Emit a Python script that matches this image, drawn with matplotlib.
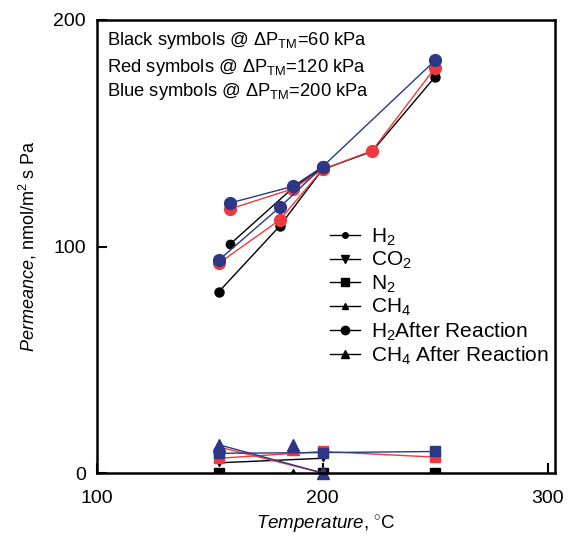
import matplotlib
matplotlib.use("Agg")
import matplotlib.pyplot as plt
from matplotlib.lines import Line2D
import numpy as np

plt.rcParams['font.family'] = ['Liberation Sans', 'DejaVu Sans']
plt.rcParams['mathtext.fontset'] = 'custom'
plt.rcParams['mathtext.rm'] = 'Liberation Sans'
plt.rcParams['mathtext.it'] = 'Liberation Sans:italic'
plt.rcParams['mathtext.bf'] = 'Liberation Sans:bold'

# ---- data ----
# H2 series: "a" runs (lower start) and "b" runs (upper start)
black_h2a_T = [154, 181, 200, 222, 250]
black_h2a_P = [80, 109, 134, 142, 175]
black_h2b_T = [159, 187, 200]
black_h2b_P = [101, 126, 135]

red_h2a_T = [154, 181, 200, 222, 250]
red_h2a_P = [92.6, 111.7, 134, 142.3, 179]
red_h2b_T = [159, 187, 200]
red_h2b_P = [116.6, 125.5, 134]

blue_h2a_T = [154, 181, 200, 250]
blue_h2a_P = [94, 117.3, 135.2, 182.2]
blue_h2b_T = [159, 187, 200]
blue_h2b_P = [119.2, 126.6, 135.2]

# low-permeance gases
black_n2_T = [154, 200, 250]
black_n2_P = [0, 0, 0]
black_co2_T = [154, 200]
black_co2_P = [4.5, 6.5]
black_ch4b_T = [187]
black_ch4b_P = [0]

red_ch4_T = [154, 200]
red_ch4_P = [11.5, 0]
red_n2_T = [154, 200, 250]
red_n2_P = [6.5, 9.5, 7.0]
red_co2_T = [250]
red_co2_P = [7.5]
red_ch4b_T = [187]
red_ch4b_P = [10.5]

blue_ch4_T = [154, 200]
blue_ch4_P = [12.5, 0]
blue_n2_T = [154, 200, 250]
blue_n2_P = [8.7, 9.0, 9.5]
blue_ch4b_T = [187]
blue_ch4b_P = [12.5]

x_ticks = [100, 200, 300]
y_ticks = [0, 100, 200]

legend_labels = [r"H$_2$", r"CO$_2$", r"N$_2$", r"CH$_4$",
                 r"H$_2$After Reaction", r"CH$_4$ After Reaction"]
legend_markers = ['o', 'v', 's', '^', 'o', '^']
legend_msizes = [4, 6, 6, 4, 6, 6]

notes = [r"Black symbols @ $\Delta$P$_{\mathrm{TM}}$=60 kPa",
         r"Red symbols @ $\Delta$P$_{\mathrm{TM}}$=120 kPa",
         r"Blue symbols @ $\Delta$P$_{\mathrm{TM}}$=200 kPa"]

BLACK = '#000000'
RED = '#f0393c'
BLUE = '#2c3785'

fig = plt.figure(figsize=(5.72, 5.39), dpi=100)
ax = fig.add_axes([97/572, 1-473/539, (555-97)/572, (473-20)/539])

lw = 1.0
# black
ax.plot(black_h2a_T, black_h2a_P, '-o', color=BLACK, lw=lw, ms=6.5)
ax.plot(black_h2b_T, black_h2b_P, '-o', color=BLACK, lw=lw, ms=6)
ax.plot(black_n2_T, black_n2_P, 's', color=BLACK, lw=lw, ms=6.5)
ax.plot(black_co2_T, black_co2_P, '-v', color=BLACK, lw=lw, ms=4)
ax.plot(black_ch4b_T, black_ch4b_P, '^', color=BLACK, ms=6)
# red
ax.plot(red_h2a_T, red_h2a_P, '-o', color=RED, lw=lw, ms=8.5)
ax.plot(red_h2b_T, red_h2b_P, '-o', color=RED, lw=lw, ms=8.5)
ax.plot(red_ch4_T, red_ch4_P, '-^', color=RED, lw=lw, ms=8)
ax.plot(red_n2_T, red_n2_P, '-s', color=RED, lw=lw, ms=7, clip_on=False)
ax.plot(red_co2_T, red_co2_P, 'v', color=RED, ms=6)
ax.plot(red_ch4b_T, red_ch4b_P, '^', color=RED, ms=8)
# blue
ax.plot(blue_h2a_T, blue_h2a_P, '-o', color=BLUE, lw=lw, ms=8.5)
ax.plot(blue_h2b_T, blue_h2b_P, '-o', color=BLUE, lw=lw, ms=8.5)
ax.plot(blue_ch4_T, blue_ch4_P, '-^', color=BLUE, lw=lw, ms=8, clip_on=False)
ax.plot(blue_n2_T, blue_n2_P, '-s', color=BLUE, lw=lw, ms=7)
ax.plot(blue_ch4b_T, blue_ch4b_P, '^', color=BLUE, ms=8)

ax.set_xlim(100, 303.1)
ax.set_ylim(0, 199.6)
ax.set_xticks(x_ticks)
ax.set_yticks(y_ticks)
ax.tick_params(axis='both', direction='in', length=7, width=1.5, labelsize=14)
ax.tick_params(axis='x', pad=12)
ax.tick_params(axis='y', pad=8)
for s in ax.spines.values():
    s.set_linewidth(1.8)

ax.set_xlabel(r"$\mathit{Temperature}$, $^{\circ}$C", fontsize=13.5, labelpad=5)
ax.set_ylabel(r"$\mathit{Permeance}$, nmol/m$^2$ s Pa", fontsize=13, labelpad=10)

for txt, ya in zip(notes, [0.955, 0.896, 0.842]):
    ax.text(0.022, ya, txt, transform=ax.transAxes, fontsize=13.2, va='center', ha='left')

handles = [Line2D([0], [0], color='black', lw=1, marker=m, ms=s)
           for m, s in zip(legend_markers, legend_msizes)]
ax.legend(handles, legend_labels, loc='upper left', bbox_to_anchor=(0.49, 0.562),
          frameon=False, fontsize=15, handlelength=1.45, handletextpad=0.55,
          labelspacing=0.1, borderaxespad=0)

fig.savefig("out.png", dpi=100)
